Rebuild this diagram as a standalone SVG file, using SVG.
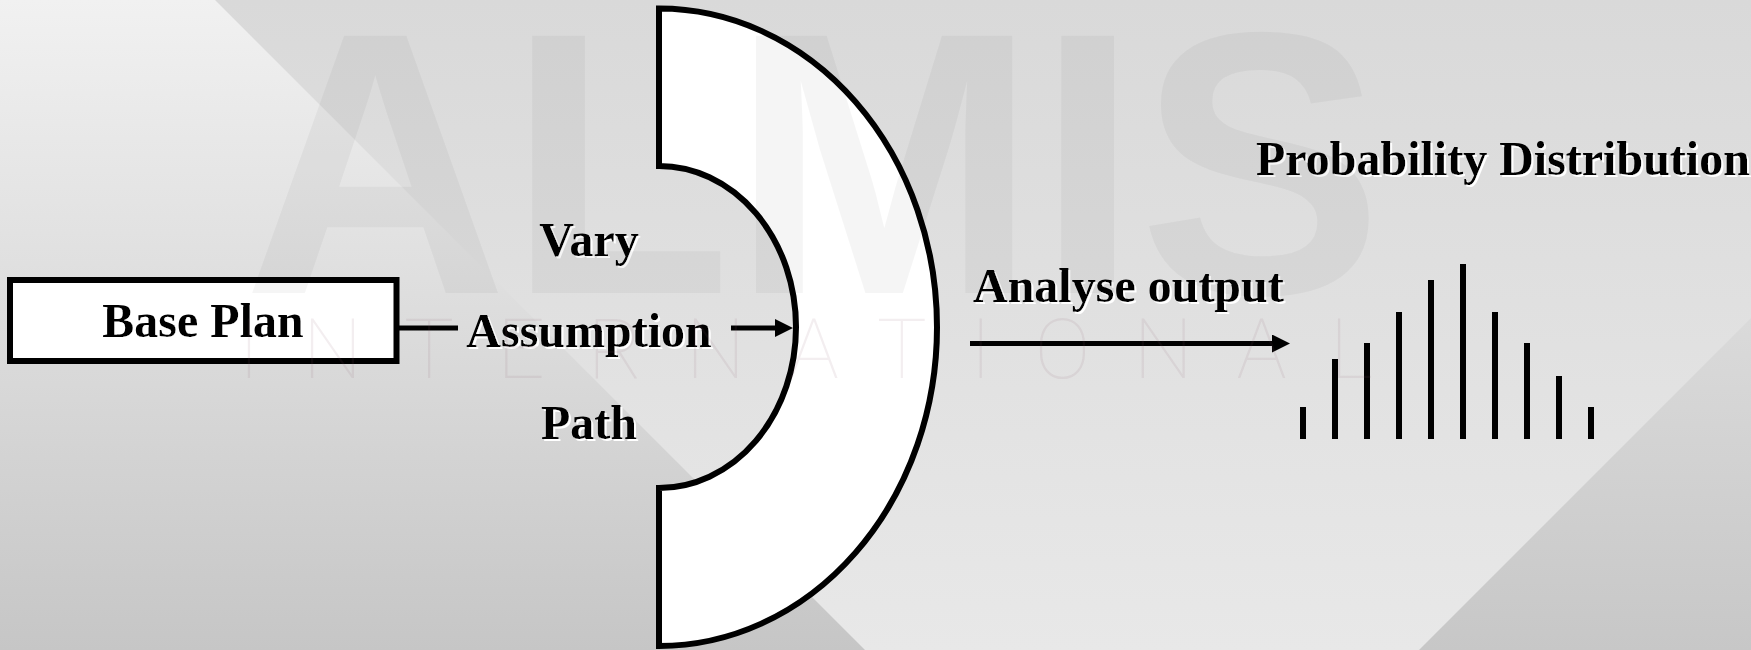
<svg xmlns="http://www.w3.org/2000/svg" width="1751" height="650" viewBox="0 0 1751 650">
<defs>
  <linearGradient id="gLeft" x1="0" y1="0" x2="0" y2="650" gradientUnits="userSpaceOnUse">
    <stop offset="0" stop-color="#f1f1f1"/>
    <stop offset="0.5" stop-color="#dcdcdc"/>
    <stop offset="1" stop-color="#c6c6c6"/>
  </linearGradient>
  <linearGradient id="gMid" x1="0" y1="0" x2="0" y2="650" gradientUnits="userSpaceOnUse">
    <stop offset="0" stop-color="#d9d9d9"/>
    <stop offset="1" stop-color="#e8e8e8"/>
  </linearGradient>
  <linearGradient id="gRight" x1="0" y1="320" x2="0" y2="650" gradientUnits="userSpaceOnUse">
    <stop offset="0" stop-color="#dadada"/>
    <stop offset="1" stop-color="#c7c7c7"/>
  </linearGradient>
  <filter id="shadow" x="-5%" y="-20%" width="110%" height="140%">
    <feFlood flood-color="#ffffff" result="f"/>
    <feComposite in="f" in2="SourceAlpha" operator="in" result="s"/>
    <feOffset in="s" dx="2" dy="2" result="o"/>
    <feMerge>
      <feMergeNode in="o"/>
      <feMergeNode in="SourceGraphic"/>
    </feMerge>
  </filter>
  <marker id="arrow" viewBox="0 -9 18 18" refX="2" refY="0" markerWidth="18" markerHeight="18" markerUnits="userSpaceOnUse" orient="auto">
    <path d="M0,-9 L18,0 L0,9 Z" fill="#000"/>
  </marker>
  <style>
    .lbl { font-family: "Liberation Serif", "Times New Roman", serif; font-weight: bold; font-size: 48px; fill: #000; filter: url(#shadow); }
    .box { fill: #ffffff; stroke: #000; stroke-width: 6; }
    .conn { stroke: #000; stroke-width: 5; fill: none; }
    .bar { fill: #000; }
  </style>
</defs>

<g id="background">
  <rect x="0" y="0" width="1751" height="650" fill="url(#gMid)"/>
  <polygon points="0,0 215,0 865,650 0,650" fill="url(#gLeft)"/>
  <polygon points="1751,318 1751,650 1419,650" fill="url(#gRight)"/>
</g>

<g id="node-base-plan">
  <rect class="box" x="10" y="280" width="386.5" height="81"/>
  <text class="lbl" x="203" y="337" text-anchor="middle">Base Plan</text>
</g>

<g id="node-path-shape">
  <path class="box" d="M659,8.5 L659,166 A137,161 0 0 1 659,488 L659,646 A278,318.75 0 0 0 659,8.5 Z"/>
</g>

<g id="node-vary-assumption-path">
  <text class="lbl" x="589" y="256" text-anchor="middle">Vary</text>
  <text class="lbl" x="589" y="347" text-anchor="middle">Assumption</text>
  <text class="lbl" x="589" y="439" text-anchor="middle">Path</text>
</g>

<g id="node-distribution">
  <text class="lbl" x="1256" y="175">Probability Distribution</text>
  <rect class="bar" x="1300" y="407" width="6" height="32"/>
  <rect class="bar" x="1332" y="359" width="6" height="80"/>
  <rect class="bar" x="1364" y="343" width="6" height="96"/>
  <rect class="bar" x="1396" y="312" width="6" height="127"/>
  <rect class="bar" x="1428" y="280" width="6" height="159"/>
  <rect class="bar" x="1460" y="264" width="6" height="175"/>
  <rect class="bar" x="1492" y="312" width="6" height="127"/>
  <rect class="bar" x="1524" y="343" width="6" height="96"/>
  <rect class="bar" x="1556" y="376" width="6" height="63"/>
  <rect class="bar" x="1588" y="407" width="6" height="32"/>
</g>

<g id="connectors">
  <line class="conn" x1="396.5" y1="328" x2="458" y2="328"/>
  <line class="conn" x1="731" y1="328" x2="777" y2="328" marker-end="url(#arrow)"/>
  <line class="conn" x1="970" y1="343.5" x2="1274" y2="343.5" marker-end="url(#arrow)"/>
  <text class="lbl" x="973" y="302">Analyse output</text>
</g>

<g id="watermark">
  <text x="243" y="293" font-family="'Liberation Sans', Arial, sans-serif" font-weight="bold" font-size="374" textLength="1140" lengthAdjust="spacingAndGlyphs" fill="#000" fill-opacity="0.04">ALMIS</text>
  <text x="238" y="378" font-family="Roboto, 'DejaVu Sans', sans-serif" font-weight="100" font-size="84" textLength="1135" lengthAdjust="spacing" fill="#8a5a6a" fill-opacity="0.1">INTERNATIONAL</text>
</g>
</svg>
